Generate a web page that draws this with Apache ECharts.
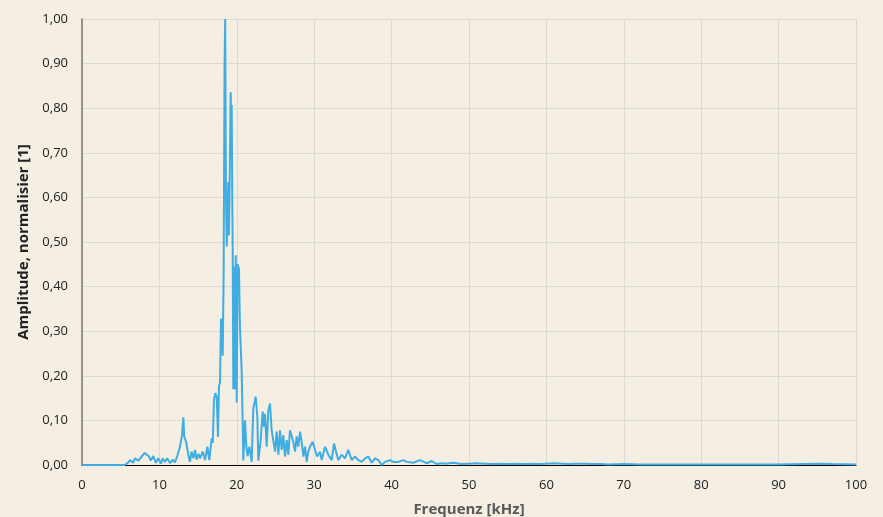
<!DOCTYPE html>
<html><head><meta charset="utf-8">
<script src="https://cdn.jsdelivr.net/npm/echarts@6/dist/echarts.min.js"></script>
<style>html,body{margin:0;padding:0;background:#f5eee3;}#c{width:883px;height:517px;}</style>
</head><body><div id="c"></div>
<script>
const xLabel = 'Frequenz [kHz]';
const yLabel = 'Amplitude, normalisier [1]';
const freq = [0,5.5,6.0,6.2,6.6,6.85,7.3,7.7,8.1,8.6,8.9,9.2,9.55,9.85,10.2,10.4,10.7,11.0,11.4,11.7,12.0,12.3,12.65,12.9,13.1,13.2,13.45,13.75,13.95,14.15,14.4,14.6,14.8,15.05,15.25,15.6,15.9,16.2,16.45,16.75,16.9,17.05,17.23,17.4,17.57,17.7,17.83,17.96,18.09,18.18,18.3,18.42,18.5,18.6,18.7,18.82,18.9,18.99,19.12,19.21,19.25,19.34,19.42,19.47,19.55,19.6,19.68,19.77,19.86,19.99,20.1,20.28,20.41,20.63,20.76,20.84,21.06,21.23,21.4,21.62,21.92,22.13,22.44,22.65,22.78,23.09,23.34,23.51,23.64,23.86,24.07,24.29,24.5,24.72,24.94,25.15,25.37,25.58,25.8,26.01,26.23,26.45,26.66,26.87,27.09,27.3,27.52,27.74,27.95,28.17,28.38,28.6,28.81,29.03,29.24,29.46,29.8,30.1,30.4,30.75,30.97,31.4,31.82,32.26,32.56,32.82,33.11,33.55,33.98,34.4,34.85,35.27,35.7,36.14,36.56,36.99,37.43,37.86,38.28,38.72,39.15,39.79,40.22,40.87,41.51,41.95,42.8,43.67,44.53,45.18,45.83,46.5,47,48,49,50,51,52,53,54,55,56,57,58,59,60,61,62,63,64,65,66,67,68,70,72,75,80,85,90,95,97,100];
const amp = [0,0,0.006,0.011,0.005,0.015,0.01,0.019,0.027,0.02,0.01,0.02,0.005,0.015,0.003,0.015,0.007,0.015,0.004,0.012,0.006,0.02,0.04,0.064,0.107,0.064,0.052,0.022,0.007,0.03,0.015,0.034,0.012,0.025,0.015,0.03,0.011,0.041,0.011,0.06,0.05,0.146,0.161,0.154,0.063,0.176,0.186,0.328,0.32,0.245,0.43,0.9,1.0,0.6,0.49,0.56,0.635,0.515,0.695,0.836,0.78,0.807,0.58,0.487,0.17,0.43,0.445,0.17,0.47,0.14,0.45,0.44,0.31,0.21,0.094,0.01,0.10,0.041,0.02,0.041,0.007,0.127,0.153,0.108,0.01,0.056,0.12,0.086,0.115,0.041,0.123,0.138,0.078,0.082,0.03,0.075,0.023,0.078,0.034,0.067,0.019,0.056,0.023,0.078,0.082,0.052,0.03,0.064,0.041,0.075,0.052,0.019,0.041,0.007,0.03,0.041,0.052,0.034,0.019,0.03,0.011,0.041,0.023,0.011,0.048,0.03,0.011,0.023,0.015,0.034,0.011,0.019,0.011,0.007,0.015,0.019,0.005,0.015,0.011,0.0,0.007,0.011,0.007,0.007,0.011,0.007,0.005,0.011,0.004,0.009,0.002,0.004,0.003,0.005,0.002,0.003,0.004,0.003,0.002,0.003,0.002,0.003,0.002,0.003,0.002,0.003,0.004,0.003,0.002,0.003,0.003,0.002,0.002,0.001,0.002,0.001,0.001,0.001,0.001,0.001,0.003,0.002,0.001];
const data = freq.map((f,i)=>[f,amp[i]]);
const chart = echarts.init(document.getElementById('c'));
const tickFont = {color:'#222', fontSize:13, fontFamily:'Open Sans'};
chart.setOption({
  backgroundColor:'#f5eee3',
  animation:false,
  grid:{left:82,right:27,top:19,bottom:52,containLabel:false,outerBoundsMode:'none'},
  xAxis:{type:'value',min:0,max:100,interval:10,
    name:xLabel,nameLocation:'middle',nameGap:37,
    nameTextStyle:{color:'#595959',fontSize:15,fontWeight:'bold',fontFamily:'Open Sans'},
    axisLine:{show:true,lineStyle:{color:'#000',width:1}},
    axisTick:{show:false},
    axisLabel:Object.assign({margin:14},tickFont),
    splitLine:{show:true,lineStyle:{color:'#dcdad5',width:1}}},
  yAxis:{type:'value',min:0,max:1,interval:0.1,
    name:yLabel,nameLocation:'middle',nameGap:45,
    nameTextStyle:{color:'#222',fontSize:15,fontWeight:'bold',fontFamily:'Open Sans'},
    axisLine:{show:true,lineStyle:{color:'#777',width:1.5}},
    axisTick:{show:false},
    axisLabel:Object.assign({margin:14,formatter:v=>v.toFixed(2).replace('.',',')},tickFont),
    splitLine:{show:true,lineStyle:{color:'#dcdad5',width:1}}},
  series:[{type:'line',data:data,showSymbol:false,
    lineStyle:{color:'#3fade2',width:2},itemStyle:{color:'#3fade2'}}]
});
</script></body></html>
